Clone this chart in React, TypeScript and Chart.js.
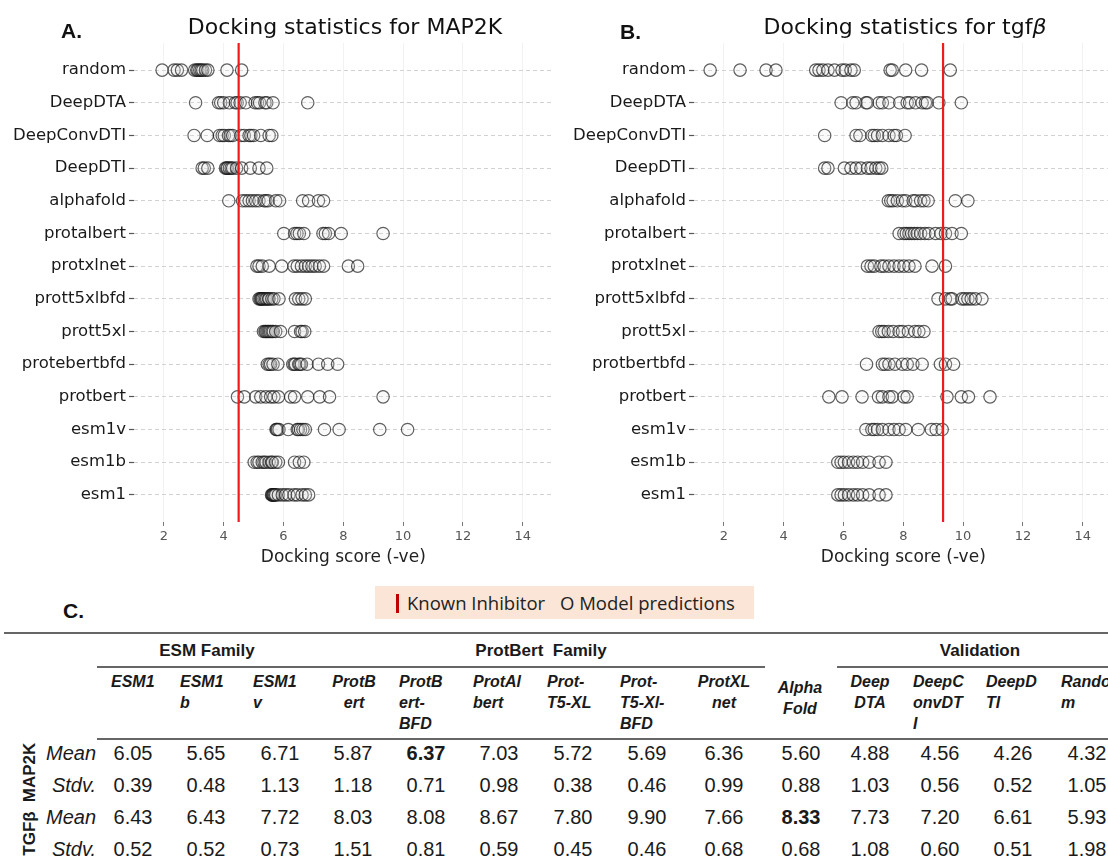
import React, { useEffect, useRef } from 'react';
import { Chart, registerables } from 'chart.js';

Chart.register(...registerables);
Chart.defaults.font.family = "'DejaVu Sans', sans-serif";

// ---------------- chart data ----------------
const categoriesMap2k = ['random', 'DeepDTA', 'DeepConvDTI', 'DeepDTI', 'alphafold', 'protalbert', 'protxlnet', 'prott5xlbfd', 'prott5xl', 'protebertbfd', 'protbert', 'esm1v', 'esm1b', 'esm1'];
const categoriesTgfb = ['random', 'DeepDTA', 'DeepConvDTI', 'DeepDTI', 'alphafold', 'protalbert', 'protxlnet', 'prott5xlbfd', 'prott5xl', 'protbertbfd', 'protbert', 'esm1v', 'esm1b', 'esm1'];
const xTicks = [2, 4, 6, 8, 10, 12, 14];

const map2kInhibitor = 4.5;
const tgfbInhibitor = 9.33;

// MAP2K docking scores (-ve)
const m2kRandom = [1.94, 2.34, 2.45, 2.59, 3.03, 3.1, 3.14, 3.2, 3.25, 3.3, 3.39, 3.47, 4.11, 4.6];
const m2kDeepDTA = [3.06, 3.83, 3.9, 4.0, 4.19, 4.39, 4.45, 4.55, 4.74, 5.05, 5.13, 5.2, 5.38, 5.44, 5.65, 6.81];
const m2kDeepConvDTI = [3.01, 3.45, 3.86, 3.95, 4.02, 4.16, 4.22, 4.3, 4.58, 4.69, 4.85, 4.91, 5.0, 5.24, 5.52, 5.61];
const m2kDeepDTI = [3.28, 3.35, 3.47, 4.06, 4.1, 4.13, 4.19, 4.25, 4.3, 4.43, 4.6, 4.89, 5.18, 5.44];
const m2kAlphafold = [4.17, 4.63, 4.74, 4.85, 4.96, 5.07, 5.18, 5.35, 5.41, 5.49, 5.74, 5.87, 6.64, 6.84, 7.17, 7.34];
const m2kProtalbert = [6.01, 6.37, 6.45, 6.53, 6.68, 7.32, 7.4, 7.51, 7.93, 9.33];
const m2kProtxlnet = [5.11, 5.18, 5.29, 5.52, 5.94, 6.35, 6.46, 6.6, 6.73, 6.84, 6.95, 7.06, 7.2, 7.34, 8.17, 8.48];
const m2kPrott5xlbfd = [5.18, 5.22, 5.25, 5.27, 5.3, 5.35, 5.4, 5.44, 5.5, 5.52, 5.61, 5.68, 5.85, 6.4, 6.51, 6.62, 6.73];
const m2kPrott5xl = [5.33, 5.38, 5.41, 5.45, 5.49, 5.53, 5.57, 5.62, 5.66, 5.74, 5.9, 6.37, 6.57, 6.62, 6.71];
const m2kProtbertbfd = [5.46, 5.52, 5.57, 5.65, 5.81, 6.31, 6.36, 6.4, 6.51, 6.55, 6.6, 6.79, 7.17, 7.48, 7.81];
const m2kProtbert = [4.46, 4.69, 5.07, 5.24, 5.41, 5.57, 5.68, 5.83, 6.24, 6.37, 6.81, 7.21, 7.54, 9.33];
const m2kEsm1v = [5.75, 5.77, 5.8, 5.85, 6.16, 6.46, 6.5, 6.57, 6.65, 6.73, 7.37, 7.86, 9.22, 10.15];
const m2kEsm1b = [5.02, 5.12, 5.18, 5.29, 5.35, 5.41, 5.52, 5.6, 5.63, 5.74, 5.83, 6.37, 6.53, 6.68];
const m2kEsm1 = [5.6, 5.62, 5.64, 5.66, 5.68, 5.71, 5.74, 5.83, 5.96, 6.07, 6.18, 6.35, 6.46, 6.62, 6.73, 6.84];

// TGF-beta docking scores (-ve)
const tgfRandom = [1.54, 2.54, 3.41, 3.74, 5.07, 5.18, 5.31, 5.48, 5.7, 5.95, 6.06, 6.25, 6.36, 7.56, 7.63, 8.08, 8.61, 9.57];
const tgfDeepDTA = [5.92, 6.31, 6.42, 6.75, 6.8, 7.19, 7.3, 7.52, 7.88, 8.13, 8.21, 8.41, 8.63, 8.74, 8.8, 9.19, 9.94];
const tgfDeepConvDTI = [5.37, 6.42, 6.55, 6.95, 7.03, 7.14, 7.3, 7.52, 7.69, 7.77, 8.06];
const tgfDeepDTI = [5.37, 5.48, 6.03, 6.25, 6.42, 6.58, 6.8, 6.92, 7.08, 7.19, 7.28];
const tgfAlphafold = [7.5, 7.58, 7.66, 7.8, 7.97, 8.08, 8.33, 8.41, 8.58, 8.69, 8.83, 9.74, 10.16];
const tgfProtalbert = [7.86, 8.02, 8.1, 8.19, 8.28, 8.37, 8.47, 8.58, 8.72, 8.85, 9.08, 9.26, 9.41, 9.63, 9.94];
const tgfProtxlnet = [6.8, 6.92, 7.03, 7.25, 7.36, 7.52, 7.69, 7.86, 8.02, 8.19, 8.39, 8.96, 9.41];
const tgfPrott5xlbfd = [9.16, 9.41, 9.57, 9.63, 9.96, 10.05, 10.16, 10.27, 10.41, 10.63];
const tgfPrott5xl = [7.19, 7.28, 7.36, 7.5, 7.66, 7.86, 7.97, 8.17, 8.39, 8.52, 8.69];
const tgfProtbertbfd = [6.77, 7.3, 7.39, 7.52, 7.72, 7.97, 8.13, 8.32, 8.63, 9.24, 9.41, 9.68];
const tgfProtbert = [5.51, 5.95, 6.62, 7.17, 7.3, 7.52, 7.63, 8.02, 8.13, 9.46, 9.94, 10.18, 10.9];
const tgfEsm1v = [6.75, 6.95, 7.03, 7.14, 7.3, 7.52, 7.69, 7.86, 8.08, 8.5, 8.94, 9.1, 9.3];
const tgfEsm1b = [5.81, 5.92, 6.03, 6.17, 6.33, 6.47, 6.64, 6.86, 7.19, 7.42];
const tgfEsm1 = [5.81, 5.92, 6.03, 6.17, 6.33, 6.47, 6.64, 6.86, 7.19, 7.42];

const map2kRows = [m2kRandom, m2kDeepDTA, m2kDeepConvDTI, m2kDeepDTI, m2kAlphafold, m2kProtalbert, m2kProtxlnet, m2kPrott5xlbfd, m2kPrott5xl, m2kProtbertbfd, m2kProtbert, m2kEsm1v, m2kEsm1b, m2kEsm1];
const tgfbRows = [tgfRandom, tgfDeepDTA, tgfDeepConvDTI, tgfDeepDTI, tgfAlphafold, tgfProtalbert, tgfProtxlnet, tgfPrott5xlbfd, tgfPrott5xl, tgfProtbertbfd, tgfProtbert, tgfEsm1v, tgfEsm1b, tgfEsm1];

// ---------------- table data ----------------
const headerLines = [['ESM1'], ['ESM1', 'b'], ['ESM1', 'v'], ['ProtB', 'ert'], ['ProtB', 'ert-', 'BFD'], ['ProtAl', 'bert'], ['Prot-', 'T5-XL'], ['Prot-', 'T5-Xl-', 'BFD'], ['ProtXL', 'net'], ['Alpha', 'Fold'], ['Deep', 'DTA'], ['DeepC', 'onvDT', 'I'], ['DeepD', 'TI'], ['Rando', 'm']];
const map2kMean = [6.05, 5.65, 6.71, 5.87, 6.37, 7.03, 5.72, 5.69, 6.36, 5.6, 4.88, 4.56, 4.26, 4.32];
const map2kStdv = [0.39, 0.48, 1.13, 1.18, 0.71, 0.98, 0.38, 0.46, 0.99, 0.88, 1.03, 0.56, 0.52, 1.05];
const tgfbMean = [6.43, 6.43, 7.72, 8.03, 8.08, 8.67, 7.8, 9.9, 7.66, 8.33, 7.73, 7.2, 6.61, 5.93];
const tgfbStdv = [0.52, 0.52, 0.73, 1.51, 0.81, 0.59, 0.45, 0.46, 0.68, 0.68, 1.08, 0.6, 0.51, 1.98];
const map2kBestIndex = 4;
const tgfbBestIndex = 9;

// layout (pixels)
const headerX = [111, 180, 253, 354, 399, 473, 547, 620, 724, 800, 870, 913, 986, 1061];
const headerAlign = ['left', 'left', 'left', 'center', 'left', 'left', 'left', 'left', 'center', 'center', 'center', 'left', 'left', 'left'];
const valueX = [133, 206, 280, 353, 426, 499, 573, 647, 724, 801, 870, 940, 1013, 1087];
const rowY = [753, 785, 817, 849];

const Y_MIN = -0.83;
const Y_MAX = 13.83;

function StripChart({ labels, rows, inhibitor, left }: { labels: string[]; rows: number[][]; inhibitor: number; left: number }) {
  const ref = useRef<HTMLCanvasElement>(null);
  useEffect(() => {
    const points = rows.flatMap((vals, i) => vals.map((v) => ({ x: v, y: i })));
    const chart = new Chart(ref.current as HTMLCanvasElement, {
      type: 'scatter',
      data: {
        datasets: [
          {
            type: 'line',
            data: [{ x: inhibitor, y: Y_MIN }, { x: inhibitor, y: Y_MAX }],
            borderColor: '#f01a1a',
            borderWidth: 2.2,
            pointRadius: 0,
            order: 0,
          } as any,
          {
            type: 'scatter',
            data: points,
            pointRadius: 6.2,
            borderWidth: 1.2,
            backgroundColor: 'rgba(225,225,225,0.18)',
            borderColor: 'rgba(20,20,20,0.68)',
            order: 1,
          },
        ],
      },
      options: {
        animation: false,
        responsive: false,
        layout: { padding: { top: 43, right: 4, left: 0, bottom: 0 } },
        plugins: { legend: { display: false }, tooltip: { enabled: false } },
        scales: {
          x: {
            type: 'linear',
            min: 1,
            max: 15,
            afterBuildTicks: (s: any) => {
              s.ticks = xTicks.map((v) => ({ value: v }));
            },
            afterFit: (s: any) => {
              s.height = 53;
            },
            grid: { color: 'rgba(0,0,0,0.05)', tickColor: '#777', tickLength: 4, tickWidth: 1 },
            border: { display: false },
            ticks: { font: { size: 13 }, color: '#555', padding: 3 },
            title: { display: true, text: 'Docking score (-ve)', font: { size: 17 }, color: '#222', padding: { top: 2, bottom: 7 } },
          },
          y: {
            type: 'linear',
            reverse: true,
            min: Y_MIN,
            max: Y_MAX,
            afterBuildTicks: (s: any) => {
              s.ticks = labels.map((_, i) => ({ value: i }));
            },
            afterFit: (s: any) => {
              s.width = 134;
            },
            grid: { color: '#d2d2d2', tickColor: '#555', tickLength: 5, tickWidth: 1.2 },
            border: { display: false, dash: [4, 3] },
            ticks: { font: { size: 16.5 }, color: '#1a1a1a', padding: 3, callback: (v: any) => labels[v] ?? '' },
          },
        },
      },
    });
    return () => chart.destroy();
  }, []);
  return <canvas ref={ref} width={560} height={575} style={{ position: 'absolute', left, top: 0 }} />;
}

const abs = (l: number, t: number, extra: React.CSSProperties = {}): React.CSSProperties => ({ position: 'absolute', left: l, top: t, whiteSpace: 'nowrap', ...extra });

export default function App() {
  const ARIAL = "'Liberation Sans', Arial, sans-serif";
  const textColor = '#1a1a1a';
  const valueRows = [map2kMean, map2kStdv, tgfbMean, tgfbStdv];
  const rowLabels = ['Mean', 'Stdv.', 'Mean', 'Stdv.'];
  return (
    <div style={{ position: 'fixed', left: 0, top: 0, width: 1108, height: 864, overflow: 'hidden', background: '#fff', color: textColor }}>
      <StripChart labels={categoriesMap2k} rows={map2kRows} inhibitor={map2kInhibitor} left={0} />
      <StripChart labels={categoriesTgfb} rows={tgfbRows} inhibitor={tgfbInhibitor} left={560} />

      {/* titles */}
      <div style={abs(145, 14, { width: 400, textAlign: 'center', font: "22px/26px 'DejaVu Sans'", color: '#111' })}>Docking statistics for MAP2K</div>
      <div style={abs(705, 14, { width: 400, textAlign: 'center', font: "22px/26px 'DejaVu Sans'", color: '#111' })}>
        Docking statistics for tgf<i>β</i>
      </div>
      <div style={abs(61, 20, { font: `bold 21px/21px ${ARIAL}`, color: '#111' })}>A.</div>
      <div style={abs(620, 21, { font: `bold 21px/21px ${ARIAL}`, color: '#111' })}>B.</div>
      <div style={abs(63, 600, { font: `bold 21px/21px ${ARIAL}`, color: '#111' })}>C.</div>

      {/* legend box */}
      <div style={abs(375, 586, { width: 379, height: 33, background: '#FBE5D6' })} />
      <div style={abs(396, 594, { width: 3, height: 19, background: '#C00000' })} />
      <div style={abs(407, 590, { font: "18.5px/26px 'Open Sans'", color: '#222' })}>Known Inhibitor</div>
      <div style={abs(560, 590, { font: "18.5px/26px 'Open Sans'", color: '#222' })}>O Model predictions</div>

      {/* table rules */}
      <div style={abs(4, 632, { width: 1110, height: 2, background: '#666' })} />
      <div style={abs(97, 666, { width: 668, height: 2, background: '#666' })} />
      <div style={abs(837, 666, { width: 280, height: 2, background: '#666' })} />
      <div style={abs(97, 738, { width: 1020, height: 2, background: '#666' })} />

      {/* group headers */}
      <div style={abs(107, 640, { width: 200, textAlign: 'center', font: `bold 17px/21px ${ARIAL}` })}>ESM Family</div>
      <div style={abs(441, 640, { width: 200, textAlign: 'center', font: `bold 17px/21px ${ARIAL}` })}>ProtBert&nbsp; Family</div>
      <div style={abs(880, 640, { width: 200, textAlign: 'center', font: `bold 17px/21px ${ARIAL}` })}>Validation</div>

      {/* column headers */}
      {headerLines.map((lines, i) => {
        const center = headerAlign[i] === 'center';
        const top = i === 9 ? 677 : 671;
        return (
          <div
            key={'h' + i}
            style={abs(center ? headerX[i] - 50 : headerX[i], top, {
              width: center ? 100 : undefined,
              textAlign: center ? 'center' : 'left',
              font: `italic bold 16px/21px ${ARIAL}`,
            })}
          >
            {lines.map((ln, j) => (
              <div key={j}>{ln}</div>
            ))}
          </div>
        );
      })}

      {/* row group labels */}
      <div style={abs(-6, 762, { width: 70, height: 21, textAlign: 'center', font: `bold 17px/21px ${ARIAL}`, transform: 'rotate(-90deg)' })}>MAP2K</div>
      <div style={abs(-6, 823, { width: 70, height: 21, textAlign: 'center', font: `bold 17px/21px ${ARIAL}`, transform: 'rotate(-90deg)' })}>TGFβ</div>

      {/* row labels and values */}
      {rowLabels.map((lab, r) => (
        <div key={'l' + r} style={abs(16, rowY[r] - 12, { width: 80, textAlign: 'right', font: `italic 20px/24px ${ARIAL}` })}>
          {lab}
        </div>
      ))}
      {valueRows.map((vals, r) =>
        vals.map((v, c) => {
          const bold = (r === 0 && c === map2kBestIndex) || (r === 2 && c === tgfbBestIndex);
          return (
            <div
              key={'v' + r + '-' + c}
              style={abs(valueX[c] - 40, rowY[r] - 12, {
                width: 80,
                textAlign: 'center',
                font: `${bold ? 'bold ' : ''}20px/24px ${ARIAL}`,
              })}
            >
              {v.toFixed(2)}
            </div>
          );
        })
      )}
    </div>
  );
}
